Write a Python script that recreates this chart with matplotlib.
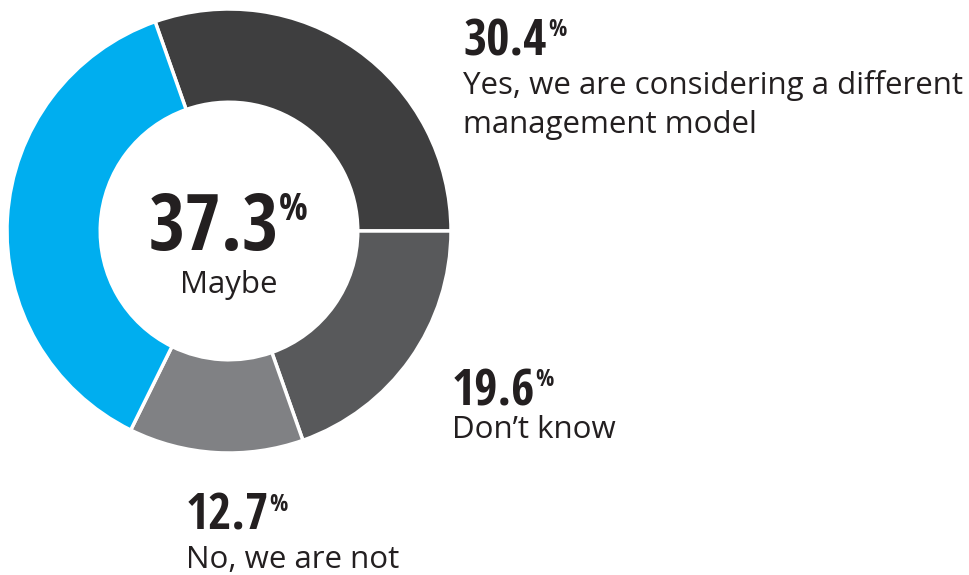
import matplotlib
matplotlib.use('Agg')
import matplotlib.pyplot as plt
from matplotlib import font_manager as fm
from matplotlib.textpath import TextPath

# Datos
etiquetas = ['Yes, we are considering a different\nmanagement model', "Don\u2019t know",
             'No, we are not', 'Maybe']
valores = [30.4, 19.6, 12.7, 37.3]
colores = ['#3e3e3f', '#58595b', '#808184', '#00aeef']

W, H = 969, 575
fig = plt.figure(figsize=(W / 100, H / 100), dpi=100)


def peso(f):
    return f.weight if isinstance(f.weight, int) else fm.weight_dict.get(f.weight, 400)


def proporcion(fp):
    ext = TextPath((0, 0), '30.4', size=100, prop=fp).get_extents()
    return ext.width / ext.height


# Fuente sans en negrita y estrecha para los números (proporción del original ~1.7)
familias = ('Open Sans', 'Roboto', 'Liberation', 'DejaVu', 'Lato', 'Inter')
num_font = fm.FontProperties(family='DejaVu Sans', weight='bold')
mejor = abs(proporcion(num_font) - 1.7)
for f in fm.fontManager.ttflist:
    if not f.name.startswith(familias) or f.style != 'normal':
        continue
    if not (600 <= peso(f) <= 800):
        continue
    try:
        fp = fm.FontProperties(fname=f.fname)
        d = abs(proporcion(fp) - 1.7)
    except Exception:
        continue
    if d < mejor:
        mejor, num_font = d, fp

label_family = ['Open Sans', 'DejaVu Sans']
num_color = '#231f20'
K = 100 / 72  # px por punto

# Donut: centro (229, 231), radio 222 px
cx, cy, r = 229, 231, 222
ax = fig.add_axes([(cx - r) / W, (H - cy - r) / H, 2 * r / W, 2 * r / H])
ax.pie(valores, colors=colores, startangle=90 + 19.44,
       counterclock=False, radius=1,
       wedgeprops=dict(width=0.42, edgecolor='white', linewidth=2.5))
ax.set_xlim(-1, 1)
ax.set_ylim(-1, 1)
ax.set_aspect('equal')
ax.axis('off')


def px(x, y):
    return x / W, 1 - y / H


def tinta(texto, size):
    return TextPath((0, 0), texto, size=size, prop=num_font).get_extents()


def tamano(texto, alto_px):
    # tamaño de letra para que la tinta del texto mida alto_px píxeles
    return 100 * alto_px / (tinta(texto, 100).height * K)


def numero(x, y_base, valor, alto_px, centrado=False):
    s = f'{valor}'
    size = tamano(s, alto_px)
    size2 = tamano('%', alto_px * 0.48)
    ext = tinta(s, size)
    ext2 = tinta('%', size2)
    hueco = alto_px * 0.08
    if centrado:
        total = ext.width * K + hueco + ext2.width * K
        x = x - total / 2
    x0 = x - ext.x0 * K
    fp = num_font.copy()
    fp.set_size(size)
    fig.text(*px(x0, y_base), s, fontproperties=fp, color=num_color,
             ha='left', va='baseline')
    x_fin = x0 + ext.x1 * K
    y_top = y_base - alto_px
    # signo de porcentaje pequeño, alineado arriba
    fp2 = num_font.copy()
    fp2.set_size(size2)
    fig.text(*px(x_fin + hueco - ext2.x0 * K, y_top + ext2.y1 * K), '%',
             fontproperties=fp2, color=num_color, ha='left', va='baseline')


lab = dict(fontsize=22.5, family=label_family, color=num_color, va='baseline')

# Centro
numero(229, 250, valores[3], 58, centrado=True)
fig.text(*px(229, 293), etiquetas[3], ha='center', **lab)

# Yes
numero(465, 55, valores[0], 37)
fig.text(*px(463, 94), etiquetas[0].split('\n')[0], ha='left', **lab)
fig.text(*px(463, 133), etiquetas[0].split('\n')[1], ha='left', **lab)
# Don't know
numero(454, 405, valores[1], 37)
fig.text(*px(452, 438), etiquetas[1], ha='left', **lab)
# No
numero(188, 530, valores[2], 37)
fig.text(*px(186, 568), etiquetas[2], ha='left', **lab)

fig.savefig('out.png', dpi=100)
